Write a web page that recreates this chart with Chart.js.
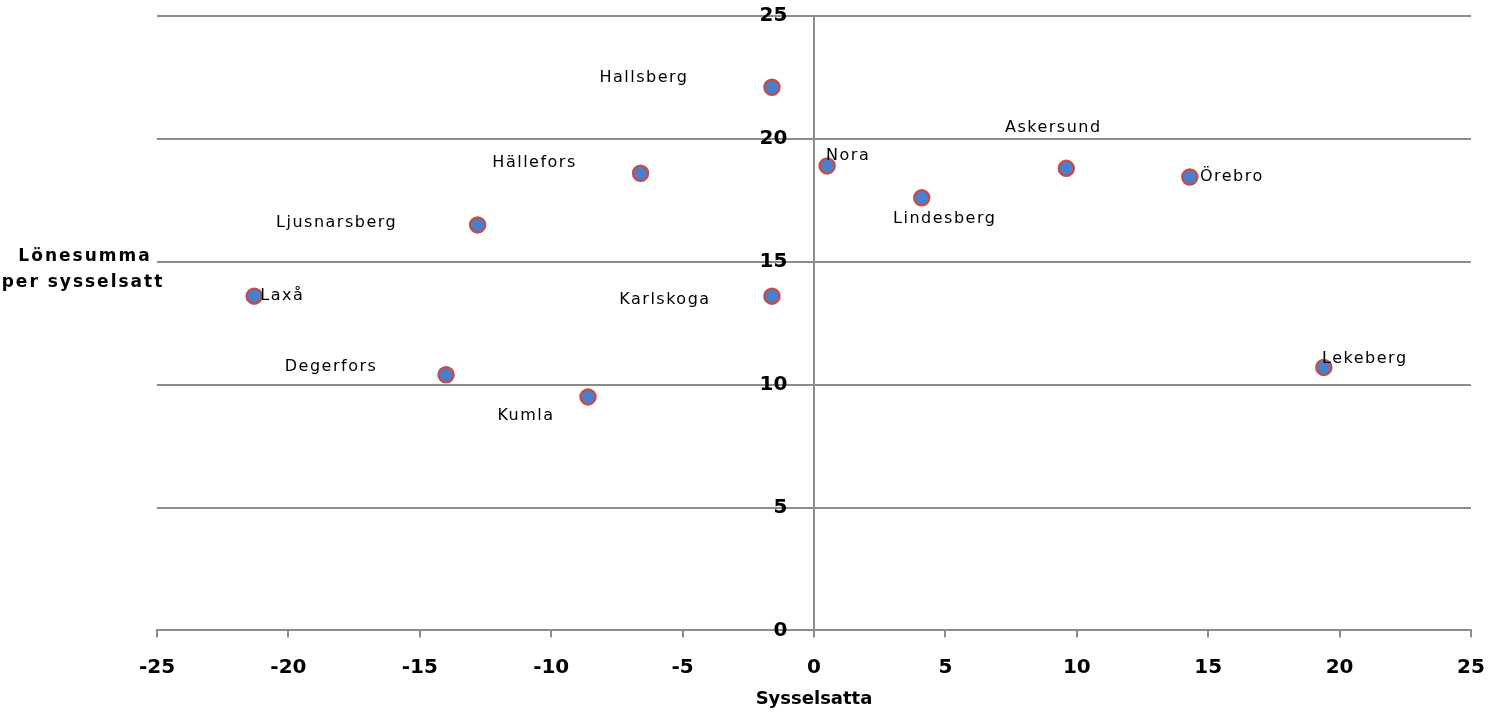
<!DOCTYPE html>
<html>
<head>
<meta charset="utf-8">
<script src="https://cdn.jsdelivr.net/npm/chart.js@4/dist/chart.umd.min.js"></script>
<style>
  html, body { margin: 0; padding: 0; background: #fff; }
  #wrap { width: 1489px; height: 715px; }
</style>
</head>
<body>
<div id="wrap"><canvas id="scatterChart"></canvas></div>
<script>
// Datos
const kommuner = ['Hallsberg', 'Nora', 'Askersund', 'Örebro', 'Hällefors', 'Lindesberg',
    'Ljusnarsberg', 'Laxå', 'Karlskoga', 'Degerfors', 'Kumla', 'Lekeberg'];
const sysselsatta = [-1.6, 0.5, 9.6, 14.3, -6.6, 4.1, -12.8, -21.3, -1.6, -14.0, -8.6, 19.4];
const lonesumma = [22.1, 18.9, 18.8, 18.45, 18.6, 17.6, 16.5, 13.6, 13.6, 10.4, 9.5, 10.7];
const xTicks = [-25, -20, -15, -10, -5, 0, 5, 10, 15, 20, 25];
const yTicks = [0, 5, 10, 15, 20, 25];

// Desplazamiento de etiquetas (centro del texto respecto al punto, px)
const labelOffsets = [[-128, -9], [21, -10], [-13, -41], [42, 0], [-106, -10], [23, 21],
    [-141, -2], [28, 0], [-107, 4], [-115, -8], [-62, 19], [41, -9]];

const FONT = '"DejaVu Sans", sans-serif';
const GRID = '#8c8c8c';

// Etiquetas de los puntos
const pointLabels = {
    id: 'pointLabels',
    afterDatasetsDraw(chart) {
        const ctx = chart.ctx;
        const meta = chart.getDatasetMeta(0);
        ctx.save();
        ctx.font = '16px ' + FONT;
        ctx.letterSpacing = '1.5px';
        ctx.fillStyle = '#000';
        ctx.textAlign = 'center';
        ctx.textBaseline = 'middle';
        meta.data.forEach((pt, i) => {
            const [dx, dy] = labelOffsets[i];
            ctx.fillText(kommuner[i], pt.x + dx, pt.y + dy);
        });
        ctx.restore();
    }
};

// Título del eje Y a la izquierda
const yTitle = {
    id: 'yTitle',
    afterDraw(chart) {
        const ctx = chart.ctx;
        ctx.save();
        ctx.font = 'bold 17px ' + FONT;
        ctx.letterSpacing = '2px';
        ctx.fillStyle = '#000';
        ctx.textAlign = 'center';
        ctx.textBaseline = 'middle';
        ctx.fillText('Lönesumma', 85, 257);
        ctx.fillText('per sysselsatt', 83, 283);
        ctx.restore();
    }
};

const ctx = document.getElementById('scatterChart');
new Chart(ctx, {
    type: 'scatter',
    data: {
        datasets: [{
            data: sysselsatta.map((x, i) => ({ x: x, y: lonesumma[i] })),
            backgroundColor: '#4a7fd0',
            borderColor: '#c0504d',
            borderWidth: 2.5,
            pointRadius: 7.5
        }]
    },
    options: {
        responsive: true,
        maintainAspectRatio: false,
        animation: false,
        layout: { padding: { left: 157, right: 18, top: 16, bottom: 0 } },
        plugins: {
            legend: { display: false },
            tooltip: { enabled: false }
        },
        scales: {
            x: {
                type: 'linear',
                min: -25,
                max: 25,
                afterBuildTicks: (scale) => { scale.ticks = xTicks.map(v => ({ value: v })); },
                afterFit: (scale) => { scale.paddingLeft = 0; scale.paddingRight = 0; },
                border: { display: true, color: GRID, width: 2 },
                grid: { drawOnChartArea: false, drawTicks: true, tickLength: 7, color: GRID, lineWidth: 2 },
                ticks: { color: '#000', font: { family: FONT, size: 20, weight: 'bold' }, padding: 18, maxRotation: 0 },
                title: {
                    display: true,
                    text: 'Sysselsatta',
                    color: '#000',
                    font: { family: FONT, size: 18, weight: 'bold' },
                    padding: { top: -9, bottom: 5 }
                }
            },
            y: {
                type: 'linear',
                position: { x: 0 },
                min: 0,
                max: 25,
                afterBuildTicks: (scale) => { scale.ticks = yTicks.map(v => ({ value: v })); },
                afterFit: (scale) => { scale.paddingTop = 0; scale.paddingBottom = 0; },
                border: { display: true, color: GRID, width: 2 },
                grid: { drawOnChartArea: true, drawTicks: false, color: GRID, lineWidth: 2 },
                ticks: {
                    color: '#000',
                    font: { family: FONT, size: 20, weight: 'bold' },
                    padding: 0,
                    callback: (v) => v + '\u2003\u2004'
                }
            }
        }
    },
    plugins: [pointLabels, yTitle]
});
</script>
</body>
</html>
